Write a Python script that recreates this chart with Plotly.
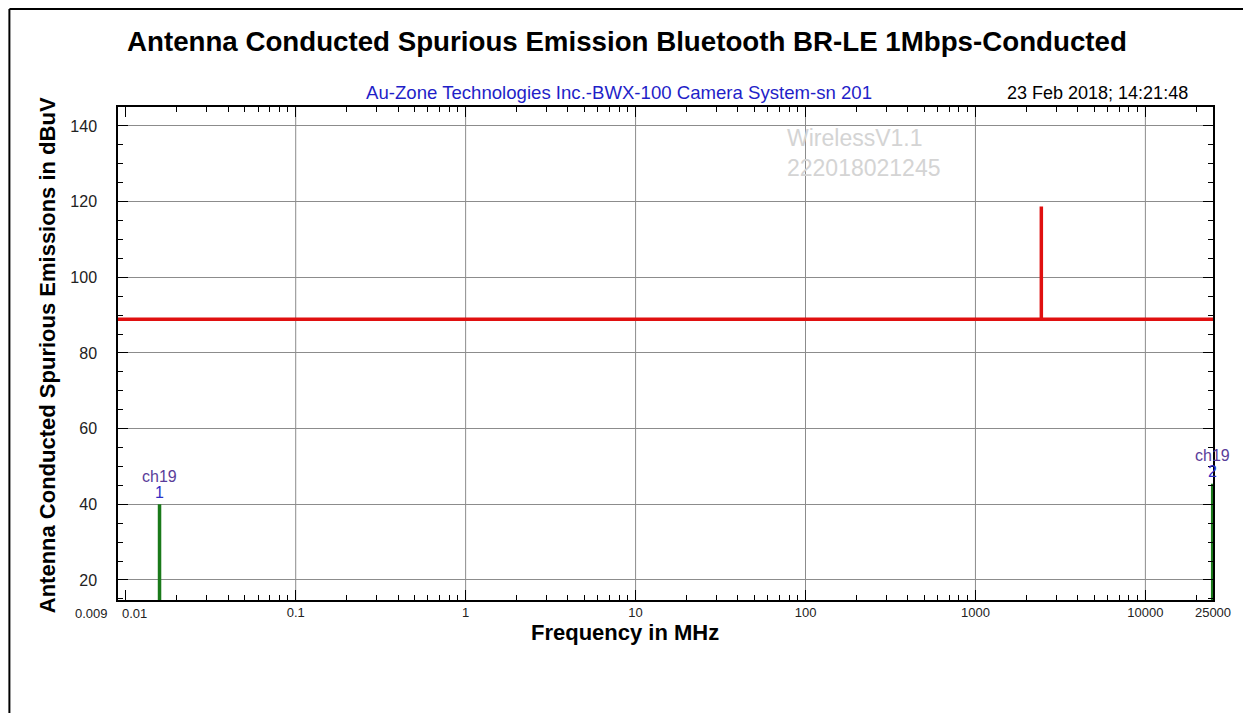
import math
import plotly.graph_objects as go

# spectrum trace (MHz, dBuV)
trace_freq = [0.009, 2442, 2442, 2442, 25000]
trace_level = [88.9, 88.9, 118.7, 88.9, 88.9]

# marked peaks
peak_freq = [0.0158, 24900]
peak_level = [40, 45.4]
peak_names = ["1", "2"]
peak_channel = ["ch19", "ch19"]

x_tickvals = [0.009, 0.01, 0.1, 1, 10, 100, 1000, 10000, 25000]
x_ticktext = ["", "", "0.1", "1", "10", "100", "1000", "10000", "25000"]
x_grid = [0.1, 1, 10, 100, 1000, 10000]
y_tickvals = [20, 40, 60, 80, 100, 120, 140]

# page body has an 8px margin; figure sized so it fits the window exactly
OFF = 8
W, H = 1251 - 2 * OFF, 721 - 2 * OFF
L, R, T, B = 118, 1217, 107, 600   # plot area in screen pixels
FONT = "Liberation Sans, Arial, sans-serif"


def px(x):
    return (x - L) / (R - L)


def py(y):
    return (B - y) / (B - T)


fig = go.Figure()

fig.add_trace(go.Scatter(
    x=trace_freq, y=trace_level, mode="lines",
    line=dict(color="#e01010", width=3.5), showlegend=False, hoverinfo="skip"
))

stem_x, stem_y = [], []
for f, v in zip(peak_freq, peak_level):
    stem_x += [f, f, None]
    stem_y += [0, v, None]
fig.add_trace(go.Scatter(
    x=stem_x, y=stem_y, mode="lines",
    line=dict(color="#1a7a1a", width=3.5), showlegend=False, hoverinfo="skip"
))

for f, v, n, ch in zip(peak_freq, peak_level, peak_names, peak_channel):
    fig.add_annotation(x=math.log10(f), y=v, xref="x", yref="y", showarrow=False,
                       yanchor="middle", yshift=28, text=ch,
                       font=dict(family=FONT, size=16, color="#5a3d9a"))
    fig.add_annotation(x=math.log10(f), y=v, xref="x", yref="y", showarrow=False,
                       yanchor="middle", yshift=12, text=n,
                       font=dict(family=FONT, size=16, color="#2f2fc4"))

# the two crowded low-end tick labels sit either side of their ticks
fig.add_annotation(x=math.log10(0.009), y=0, xref="x", yref="paper", showarrow=False,
                   xanchor="right", yanchor="top", xshift=-8, yshift=-4, text="0.009",
                   font=dict(family=FONT, size=13, color="#222"))
fig.add_annotation(x=math.log10(0.01), y=0, xref="x", yref="paper", showarrow=False,
                   xanchor="left", yanchor="top", xshift=-6, yshift=-4, text="0.01",
                   font=dict(family=FONT, size=13, color="#222"))

shapes = []
for g in x_grid:
    shapes.append(dict(type="line", xref="x", yref="paper", x0=g, x1=g, y0=0, y1=1,
                       line=dict(color="#8c8c8c", width=1), layer="below"))
# outer frame (left and top edges)
shapes.append(dict(type="line", xref="paper", yref="paper", x0=px(9), x1=px(9), y0=py(9), y1=py(721),
                   line=dict(color="black", width=2)))
shapes.append(dict(type="line", xref="paper", yref="paper", x0=px(9), x1=px(1251), y0=py(9), y1=py(9),
                   line=dict(color="black", width=2)))

ann = [
    dict(text="<b>Antenna Conducted Spurious Emission Bluetooth BR-LE 1Mbps-Conducted</b>",
         x=px(629), y=py(42), font=dict(family=FONT, size=27.7, color="black")),
    dict(text="Au-Zone Technologies Inc.-BWX-100 Camera System-sn 201",
         x=px(621), y=py(93), font=dict(family=FONT, size=18.6, color="#1f1fc8")),
    dict(text="23 Feb 2018; 14:21:48", x=px(1194), y=py(93), xanchor="right",
         font=dict(family=FONT, size=18, color="black")),
    dict(text="WirelessV1.1<br>222018021245", x=px(787), y=py(153), xanchor="left", align="left",
         font=dict(family=FONT, size=23, color="#d4d4d4")),
    dict(text="<b>Antenna Conducted Spurious Emissions in dBuV</b>", x=px(47), y=py(355),
         textangle=-90, font=dict(family=FONT, size=22, color="black")),
    dict(text="<b>Frequency in MHz</b>", x=px(627), y=py(632),
         font=dict(family=FONT, size=22, color="black")),
]
for a in ann:
    a.update(xref="paper", yref="paper", showarrow=False)
    a.setdefault("xanchor", "center")
    a.setdefault("yanchor", "middle")
    fig.add_annotation(**a)

fig.update_layout(
    width=W, height=H,
    margin=dict(l=L - OFF, r=(W + OFF) - R, t=T - OFF, b=(H + OFF) - B),
    paper_bgcolor="white", plot_bgcolor="white",
    shapes=shapes,
    xaxis=dict(
        type="log", range=[math.log10(0.009), math.log10(25000)],
        tickvals=x_tickvals, ticktext=x_ticktext, showgrid=False, tickangle=0,
        ticks="inside", ticklen=10, tickcolor="black",
        minor=dict(ticks="inside", ticklen=5, dtick="D1", tickcolor="black", showgrid=False),
        showline=True, linecolor="black", linewidth=1.5, mirror="ticks",
        tickfont=dict(family=FONT, size=13, color="#222"), zeroline=False,
    ),
    yaxis=dict(
        range=[14.7, 145], tickvals=y_tickvals,
        showgrid=True, gridcolor="#8c8c8c", gridwidth=1,
        ticks="inside", ticklen=10, tickcolor="black", ticklabelstandoff=16,
        minor=dict(ticks="inside", ticklen=5, dtick=5, tickcolor="black", showgrid=False),
        showline=True, linecolor="black", linewidth=1.5, mirror="ticks",
        tickfont=dict(family=FONT, size=16, color="#222"), zeroline=False,
    ),
)

fig.write_html("out.html")
